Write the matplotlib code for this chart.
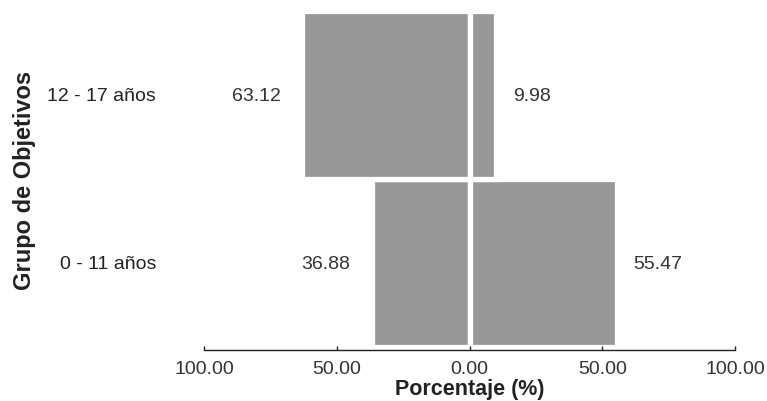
import matplotlib
matplotlib.use("Agg")
import matplotlib.pyplot as plt

# data
grupos = ["0 - 11 años", "12 - 17 años"]
izquierda = [36.88, 63.12]
derecha = [55.47, 9.98]
ticks = [-100, -50, 0, 50, 100]

plt.rcParams['font.family'] = ['Liberation Sans', 'DejaVu Sans']

fig = plt.figure(figsize=(7.67, 4.01), dpi=100)
ax = fig.add_axes([204 / 767, 1 - 350 / 401, 531 / 767, (350 - 10.5) / 401])

gris = '#979797'
y = list(range(len(grupos)))
ax.barh(y, [-v for v in izquierda], height=1.0, color=gris, edgecolor='white', linewidth=3.8)
ax.barh(y, derecha, height=1.0, color=gris, edgecolor='white', linewidth=3.8)

# value labels outside the bar ends
for i in y:
    ax.annotate("%.2f" % izquierda[i], (-izquierda[i], i), xytext=(-15.5, -1.5),
                textcoords='offset points', ha='right', va='center', fontsize=14, color='#333333')
    ax.annotate("%.2f" % derecha[i], (derecha[i], i), xytext=(12, -1.5),
                textcoords='offset points', ha='left', va='center', fontsize=14, color='#333333')

ax.set_xlim(-100, 100)
ax.set_ylim(-0.519, 1.5)
ax.set_xticks(ticks)
ax.set_xticklabels(["%.2f" % abs(t) for t in ticks], fontsize=14, color='#333333')
ax.set_yticks(y)
ax.set_yticklabels(grupos, fontsize=14, color='#222222')
ax.tick_params(axis='y', length=0, pad=34.5)
ax.tick_params(axis='x', direction='in', length=3, width=1, pad=8, color='#222222')

for s in ['top', 'right', 'left']:
    ax.spines[s].set_visible(False)
ax.spines['bottom'].set_color('#222222')
ax.spines['bottom'].set_linewidth(1)

ax.set_xlabel("Porcentaje (%)", fontsize=15.5, fontweight='bold', color='#222222', labelpad=0.5)
fig.text(25 / 767, 1 - 180 / 401, "Grupo de Objetivos", rotation=90, ha='center', va='center',
         fontsize=17, fontweight='bold', color='#222222')

fig.savefig("out.png", dpi=100)
